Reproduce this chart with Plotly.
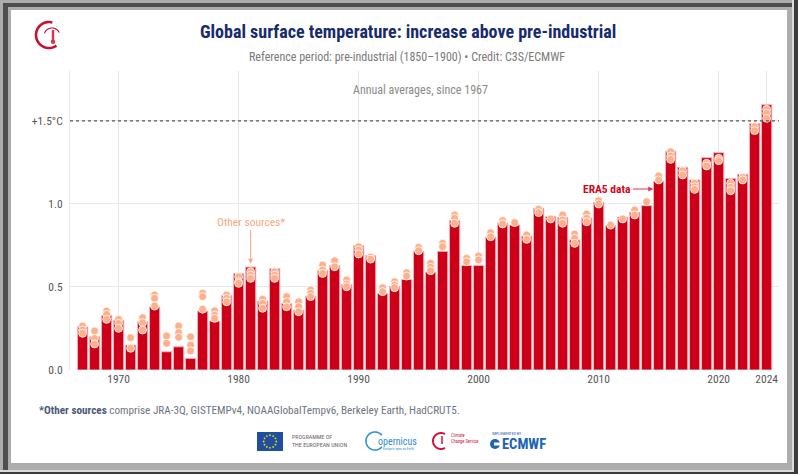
import math
import plotly.graph_objects as go

# ---------------- data ----------------
years = list(range(1967, 2025))
era5 = [0.26, 0.20, 0.33, 0.30, 0.15, 0.29, 0.38, 0.11, 0.14, 0.07,
        0.355, 0.295, 0.45, 0.58, 0.62, 0.415, 0.61, 0.40, 0.36, 0.445,
        0.60, 0.63, 0.515, 0.75, 0.69, 0.46, 0.505, 0.545, 0.715, 0.59,
        0.715, 0.90, 0.63, 0.63, 0.80, 0.885, 0.873, 0.807, 0.974, 0.924,
        0.918, 0.785, 0.916, 1.01, 0.869, 0.922, 0.95, 0.99, 1.137, 1.319,
        1.221, 1.145, 1.279, 1.309, 1.153, 1.179, 1.484, 1.598]
other_hi = [0.265, 0.235, 0.355, 0.305, 0.195, 0.315, 0.452, 0.205, 0.265, 0.20,
            0.462, 0.357, 0.452, 0.562, 0.592, 0.426, 0.592, 0.442, 0.411, 0.482,
            0.632, 0.658, 0.542, 0.743, 0.68, 0.496, 0.532, 0.586, 0.739, 0.643,
            0.763, 0.934, 0.673, 0.687, 0.827, 0.90, 0.888, 0.813, 0.968, 0.91,
            0.934, 0.819, 0.94, 1.02, 0.873, 0.91, 0.964, 1.014, 1.169, 1.315,
            1.20, 1.125, 1.245, 1.275, 1.125, 1.16, 1.466, 1.57]
other_mid = [0.241, 0.19, 0.335, 0.281, None, 0.285, 0.432, None, 0.225, 0.15,
             0.442, 0.331, 0.432, 0.532, 0.572, 0.402, 0.572, 0.411, 0.381, 0.462,
             0.602, None, 0.518, 0.723, None, None, 0.512, None, None, 0.619,
             None, 0.914, None, None, None, None, None, None, None, None,
             0.904, 0.793, 0.914, None, None, None, None, None, None, 1.289,
             None, 1.104, None, None, 1.10, None, None, 1.546]
other_lo = [0.221, 0.157, 0.305, 0.251, 0.131, 0.241, 0.385, 0.161, 0.197, 0.115,
            0.366, 0.311, 0.411, 0.522, 0.552, 0.372, 0.552, 0.381, 0.351, 0.442,
            0.582, 0.622, 0.502, 0.699, 0.668, 0.472, 0.496, 0.566, 0.719, 0.598,
            0.743, 0.884, 0.652, 0.663, 0.803, 0.88, None, 0.787, 0.948, None,
            0.884, 0.763, 0.893, 1.0, None, None, 0.934, None, 1.145, 1.269,
            1.175, 1.088, 1.229, 1.261, 1.08, 1.145, 1.442, 1.516]
x_ticks = [1970, 1980, 1990, 2000, 2010, 2020, 2024]
y_ticks = [0, 0.5, 1.0, 1.5]
y_ticktext = ["0.0", "0.5", "1.0", "+1.5°C"]

# ---------------- layout geometry ----------------
W, H = 798, 474
ML, MR, MT, MB = 70, 19, 71, 104
PW = W - ML - MR
PH = H - MT - MB


def px(x):
    return (x - ML) / PW


def py(y):
    return (H - MB - y) / PH


FONT = "Roboto Condensed, Liberation Sans Narrow, Roboto, sans-serif"

fig = go.Figure()

fig.add_trace(go.Bar(
    x=years, y=era5, width=0.86,
    marker=dict(color="#cc0018", line=dict(color="#f6b3b8", width=1)),
    hoverinfo="x+y",
))

ox, oy = [], []
for series in (other_hi, other_mid, other_lo):
    for yr, v in zip(years, series):
        if v is not None:
            ox.append(yr)
            oy.append(v)
fig.add_trace(go.Scatter(
    x=ox, y=oy, mode="markers",
    marker=dict(size=8, color="#fbb28c", line=dict(color="white", width=0.8)),
    hoverinfo="x+y",
))

shapes = []
# frame
shapes.append(dict(type="rect", xref="paper", yref="paper", layer="below",
                   x0=px(3), x1=px(8), y0=py(3), y1=py(470), line_width=0, fillcolor="#4e4e4e"))
shapes.append(dict(type="rect", xref="paper", yref="paper", layer="below",
                   x0=px(3), x1=px(792), y0=py(3), y1=py(7), line_width=0, fillcolor="#4e4e4e"))
shapes.append(dict(type="rect", xref="paper", yref="paper", layer="below",
                   x0=px(792), x1=px(794), y0=py(0), y1=py(472), line_width=0, fillcolor="#dcdcdc"))
shapes.append(dict(type="rect", xref="paper", yref="paper", layer="below",
                   x0=px(0), x1=px(794), y0=py(470), y1=py(472), line_width=0, fillcolor="#dcdcdc"))
shapes.append(dict(type="rect", xref="paper", yref="paper", layer="below",
                   x0=px(794), x1=px(798), y0=py(0), y1=py(474), line_width=0, fillcolor="#3c3c3c"))
shapes.append(dict(type="rect", xref="paper", yref="paper", layer="below",
                   x0=px(0), x1=px(798), y0=py(472), y1=py(474), line_width=0, fillcolor="#3c3c3c"))
shapes.append(dict(type="rect", xref="paper", yref="paper", layer="below",
                   x0=px(11), x1=px(787), y0=py(10), y1=py(463), line_width=0, fillcolor="white"))

# 1.5 °C dotted reference line
shapes.append(dict(type="line", xref="paper", yref="y", x0=0, x1=1, y0=1.5, y1=1.5,
                   line=dict(color="#555555", width=1.2, dash="dot")))


def arc_path(cx, cy, r, a0, a1, n=40):
    pts = []
    for i in range(n + 1):
        a = math.radians(a0 + (a1 - a0) * i / n)
        pts.append((px(cx + r * math.cos(a)), py(cy - r * math.sin(a))))
    return "M " + " L ".join(f"{a:.5f},{b:.5f}" for a, b in pts)


# top-left logo
shapes.append(dict(type="path", xref="paper", yref="paper", path=arc_path(49, 35, 13, 75, 305),
                   line=dict(color="#c8102e", width=2.6)))
shapes.append(dict(type="path", xref="paper", yref="paper", path=arc_path(52, 36, 8, 160, 25),
                   line=dict(color="#c8102e", width=1.1)))
shapes.append(dict(type="line", xref="paper", yref="paper", x0=px(53), x1=px(53), y0=py(30), y1=py(40),
                   line=dict(color="#e0304a", width=2.4)))
shapes.append(dict(type="circle", xref="paper", yref="paper", x0=px(50.8), x1=px(55.2), y0=py(39.5), y1=py(43.9),
                   fillcolor="#e0304a", line_width=0))

# footer logos
shapes.append(dict(type="rect", xref="paper", yref="paper", x0=px(257), x1=px(283), y0=py(432), y1=py(451),
                   fillcolor="#1f4f9e", line_width=0))
for k in range(12):
    a = 2 * math.pi * k / 12
    cx, cy = 270 + 6.3 * math.cos(a), 441.5 + 6.3 * math.sin(a)
    shapes.append(dict(type="circle", xref="paper", yref="paper", x0=px(cx - 0.9), x1=px(cx + 0.9),
                       y0=py(cy - 0.9), y1=py(cy + 0.9), fillcolor="#ffdd00", line_width=0))
shapes.append(dict(type="path", xref="paper", yref="paper", path=arc_path(375, 441, 9, 40, 320),
                   line=dict(color="#3190d6", width=1.6)))
shapes.append(dict(type="path", xref="paper", yref="paper", path=arc_path(441, 441, 8, 60, 300),
                   line=dict(color="#d2143a", width=2)))
shapes.append(dict(type="line", xref="paper", yref="paper", x0=px(442), x1=px(442), y0=py(436), y1=py(444),
                   line=dict(color="#d2143a", width=1.5)))
shapes.append(dict(type="circle", xref="paper", yref="paper", x0=px(490), x1=px(500), y0=py(439), y1=py(449),
                   fillcolor="#1d64b0", line_width=0))
shapes.append(dict(type="rect", xref="paper", yref="paper", x0=px(494), x1=px(500), y0=py(442.5), y1=py(445.5),
                   fillcolor="white", line_width=0))

annotations = [
    dict(text="<b>Global surface temperature: increase above pre-industrial</b>",
         xref="paper", yref="paper", x=px(408), y=py(31), showarrow=False,
         font=dict(family=FONT, size=18, color="#172a6e"), xanchor="center", yanchor="middle"),
    dict(text="Reference period: pre-industrial (1850–1900) • Credit: C3S/ECMWF",
         xref="paper", yref="paper", x=px(407), y=py(57), showarrow=False,
         font=dict(family=FONT, size=12, color="#7a7a7a"), xanchor="center", yanchor="middle"),
    dict(text="Annual averages, since 1967",
         xref="paper", yref="paper", x=px(420), y=py(90), showarrow=False,
         font=dict(family=FONT, size=12, color="#8a8a8a"), xanchor="center", yanchor="middle"),
    dict(text="Other sources*", x=1981, y=0.64, xref="x", yref="y",
         ax=0, ay=-42, showarrow=True, arrowhead=2, arrowsize=0.9, arrowwidth=1.1,
         arrowcolor="#f9a884", standoff=0,
         font=dict(family=FONT, size=11.5, color="#f9a884")),
    dict(text="<b>ERA5 data</b>", x=2014.55, y=1.09, xref="x", yref="y",
         ax=-46, ay=0, showarrow=True, arrowhead=2, arrowsize=0.9, arrowwidth=1.1,
         arrowcolor="#e2324a", standoff=0,
         font=dict(family=FONT, size=11.5, color="#d4061e")),
    dict(text="<b><span style='color:#4a5876'>*Other sources</span></b> comprise JRA-3Q, GISTEMPv4, "
              "NOAAGlobalTempv6, Berkeley Earth, HadCRUT5.",
         xref="paper", yref="paper", x=px(37), y=py(410), showarrow=False,
         font=dict(family=FONT, size=11.2, color="#6d7484"), xanchor="left", yanchor="middle"),
    dict(text="PROGRAMME OF<br>THE EUROPEAN UNION", xref="paper", yref="paper", x=px(290), y=py(440.5),
         showarrow=False, align="left", font=dict(family=FONT, size=6, color="#666666"),
         xanchor="left", yanchor="middle"),
    dict(text="opernicus", xref="paper", yref="paper", x=px(376), y=py(441), showarrow=False,
         font=dict(family=FONT, size=10, color="#2f8ccf"), xanchor="left", yanchor="middle"),
    dict(text="Europe's eyes on Earth", xref="paper", yref="paper", x=px(381), y=py(448.5), showarrow=False,
         font=dict(family=FONT, size=3.5, color="#2f8ccf"), xanchor="left", yanchor="middle"),
    dict(text="Climate<br>Change Service", xref="paper", yref="paper", x=px(449), y=py(438), showarrow=False,
         align="left", font=dict(family=FONT, size=4.5, color="#d2143a"), xanchor="left", yanchor="middle"),
    dict(text="IMPLEMENTED BY", xref="paper", yref="paper", x=px(490), y=py(433.5), showarrow=False,
         font=dict(family=FONT, size=4, color="#1d64b0"), xanchor="left", yanchor="middle"),
    dict(text="<b>ECMWF</b>", xref="paper", yref="paper", x=px(500), y=py(444), showarrow=False,
         font=dict(family=FONT, size=14.5, color="#1d64b0"), xanchor="left", yanchor="middle"),
]

fig.update_layout(
    width=W, height=H,
    margin=dict(l=ML, r=MR, t=MT, b=MB),
    paper_bgcolor="#adadad", plot_bgcolor="white",
    showlegend=False,
    shapes=shapes, annotations=annotations,
    font=dict(family=FONT, color="#555555"),
    xaxis=dict(range=[1965.95, 2025.03], tickvals=x_ticks, showgrid=True, gridcolor="#e8e8e8",
               zeroline=False, showline=False, ticks="", tickfont=dict(size=11.5, color="#555555"),
               fixedrange=True),
    yaxis=dict(range=[0, 1.801], tickvals=y_ticks, ticktext=y_ticktext, showgrid=True,
               gridcolor="#e8e8e8", zeroline=False, showline=True, linecolor="#e8e8e8", linewidth=1,
               ticks="", ticklabelstandoff=4, tickfont=dict(size=11.5, color="#555555"), fixedrange=True),
)

fig.write_html(
    "out.html",
    config={"displayModeBar": False},
    post_script="document.body.style.margin='0';document.body.style.padding='0';"
                "document.body.style.overflow='hidden';",
)
